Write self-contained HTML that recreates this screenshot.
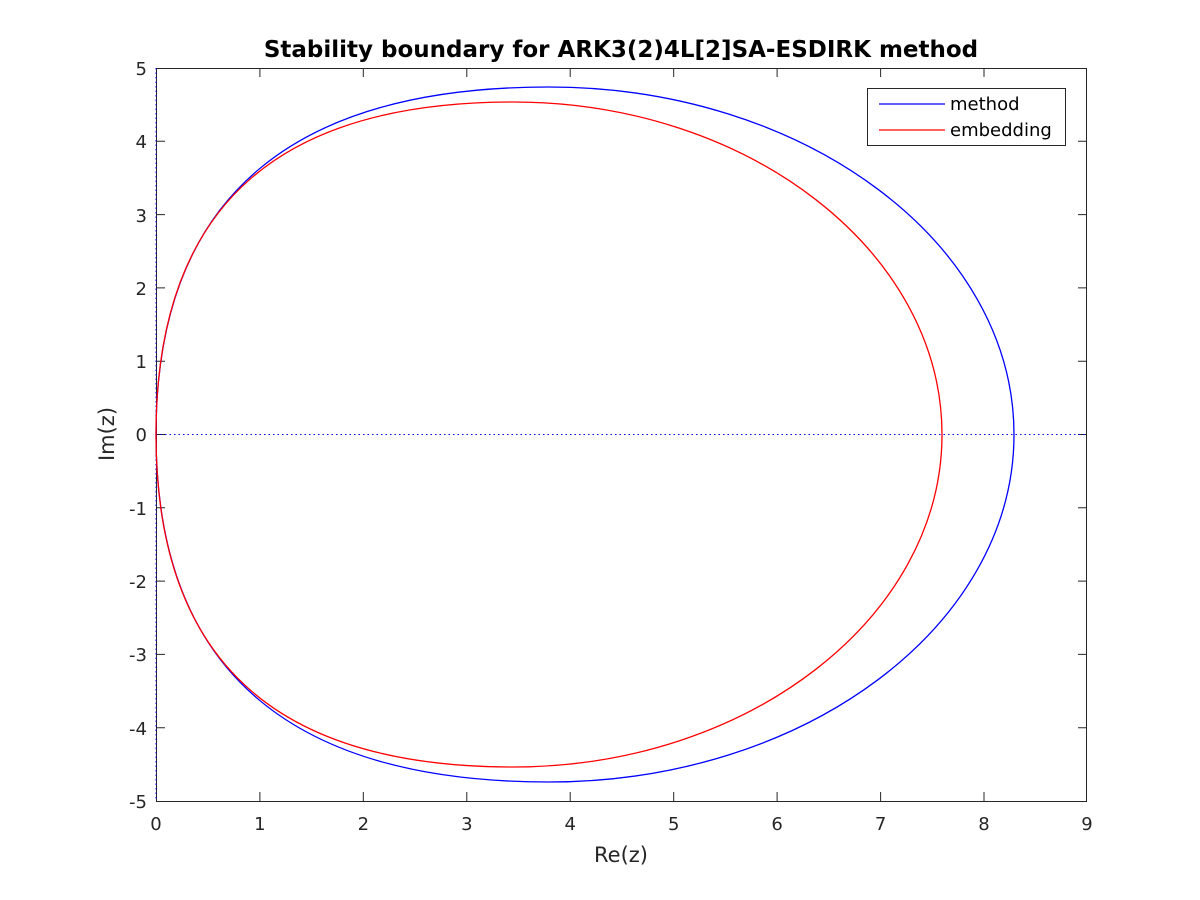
<!DOCTYPE html>
<html><head><style>body{margin:0;background:#fff}svg{display:block}text{font-family:"DejaVu Sans","Liberation Sans",sans-serif;fill:#262626}</style></head>
<body>
<svg width="1200" height="900" xmlns="http://www.w3.org/2000/svg">
<rect width="1200" height="900" fill="#fff"/>
<g stroke="#262626" stroke-width="1" fill="none">
<rect x="156.5" y="68.5" width="930" height="733"/>
<path d="M259.9 801v-9M363.3 801v-9M466.8 801v-9M570.2 801v-9M673.7 801v-9M777.1 801v-9M880.6 801v-9M984 801v-9
M259.9 68v9M363.3 68v9M466.8 68v9M570.2 68v9M673.7 68v9M777.1 68v9M880.6 68v9M984 68v9
M156 727.7h9M156 654.4h9M156 581.1h9M156 507.8h9M156 434.5h9M156 361.2h9M156 287.9h9M156 214.6h9M156 141.3h9
M1087 727.7h-9M1087 654.4h-9M1087 581.1h-9M1087 507.8h-9M1087 434.5h-9M1087 361.2h-9M1087 287.9h-9M1087 214.6h-9M1087 141.3h-9"/>
</g>
<line x1="156" y1="434.5" x2="1087" y2="434.5" stroke="#00f" stroke-dasharray="1.5,3"/>
<line x1="156" y1="68" x2="156" y2="801" stroke="#00f" stroke-dasharray="1.5,3"/>
<path d="M156 434.5 C156 190 300 87 549 87 C805 87 1014 243 1014 434.5 C1014 626 805 782 549 782 C300 782 156 679 156 434.5Z" fill="none" stroke="#00f" stroke-width="1.3"/>
<path d="M156 434.5 C156 195 290 102 513 102 C749 102 942 252 942 434.5 C942 617 749 767 513 767 C290 767 156 674 156 434.5Z" fill="none" stroke="#f00" stroke-width="1.3"/>
<g font-size="18" text-anchor="middle">
<text x="156" y="830">0</text><text x="259.9" y="830">1</text><text x="363.3" y="830">2</text><text x="466.8" y="830">3</text><text x="570.2" y="830">4</text><text x="673.7" y="830">5</text><text x="777.1" y="830">6</text><text x="880.6" y="830">7</text><text x="984" y="830">8</text><text x="1087" y="830">9</text>
</g>
<g font-size="18" text-anchor="end">
<text x="147" y="808">-5</text><text x="147" y="735">-4</text><text x="147" y="661">-3</text><text x="147" y="588">-2</text><text x="147" y="515">-1</text><text x="147" y="441">0</text><text x="147" y="368">1</text><text x="147" y="295">2</text><text x="147" y="222">3</text><text x="147" y="148">4</text><text x="147" y="75">5</text>
</g>
<text x="621" y="862" font-size="21" text-anchor="middle">Re(z)</text>
<text transform="translate(114 434) rotate(-90)" font-size="21" text-anchor="middle">Im(z)</text>
<text x="621" y="57" font-size="23" font-weight="bold" text-anchor="middle" style="fill:#000">Stability boundary for ARK3(2)4L[2]SA-ESDIRK method</text>
<rect x="867.5" y="88.5" width="198" height="57" fill="#fff" stroke="#262626"/>
<line x1="879" y1="104" x2="945" y2="104" stroke="#00f" stroke-width="1.3"/>
<line x1="879" y1="130" x2="945" y2="130" stroke="#f00" stroke-width="1.3"/>
<text x="950" y="110" font-size="18" style="fill:#000">method</text>
<text x="950" y="136" font-size="18" style="fill:#000">embedding</text>
</svg>
</body></html>
